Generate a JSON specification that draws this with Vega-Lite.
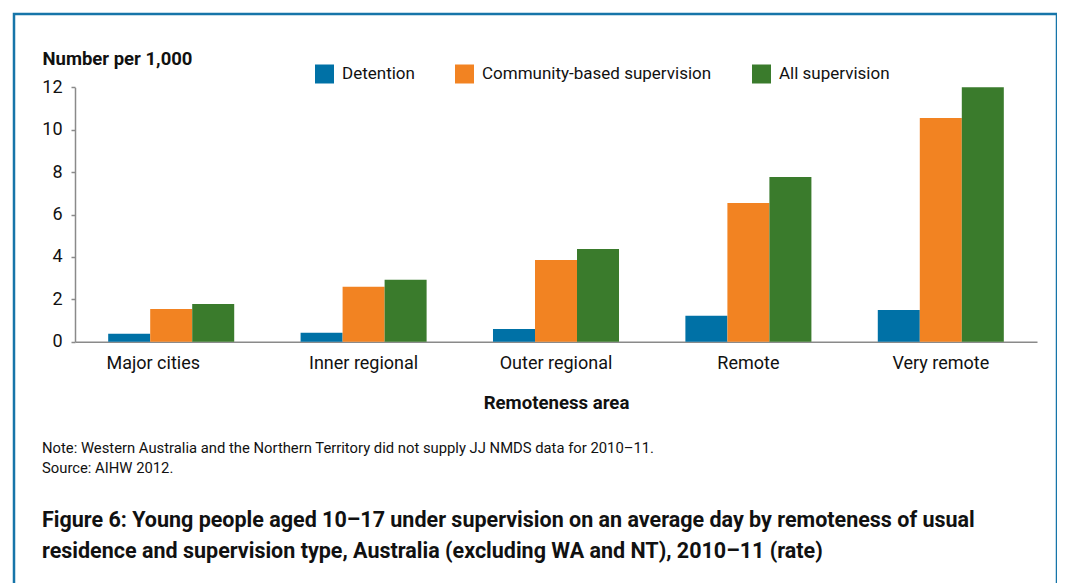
{
  "$schema": "https://vega.github.io/schema/vega-lite/v6.json",
  "width": 1043,
  "height": 572,
  "autosize": {"type": "none"},
  "padding": {"left": 14, "top": 14, "right": 0, "bottom": -3},
  "background": "white",
  "title": {
    "text": ["Note: Western Australia and the Northern Territory did not supply JJ NMDS data for 2010–11.", "Source: AIHW 2012."],
    "subtitle": ["Figure 6: Young people aged 10–17 under supervision on an average day by remoteness of usual", "residence and supervision type, Australia (excluding WA and NT), 2010–11 (rate)"],
    "orient": "bottom",
    "anchor": "start",
    "frame": "group",
    "offset": -133,
    "dx": 28,
    "baseline": "alphabetic",
    "fontSize": 14.8,
    "fontWeight": "normal",
    "color": "#111111",
    "lineHeight": 20,
    "subtitleFontSize": 21.5,
    "subtitleFontWeight": "bold",
    "subtitleColor": "#111111",
    "subtitleLineHeight": 31,
    "subtitlePadding": 39
  },
  "data": {
    "values": [
      {"area": "Major cities", "type": "Detention", "value": 0.38},
      {"area": "Major cities", "type": "Community-based supervision", "value": 1.54},
      {"area": "Major cities", "type": "All supervision", "value": 1.78},
      {"area": "Inner regional", "type": "Detention", "value": 0.42},
      {"area": "Inner regional", "type": "Community-based supervision", "value": 2.59},
      {"area": "Inner regional", "type": "All supervision", "value": 2.92},
      {"area": "Outer regional", "type": "Detention", "value": 0.6},
      {"area": "Outer regional", "type": "Community-based supervision", "value": 3.85},
      {"area": "Outer regional", "type": "All supervision", "value": 4.37},
      {"area": "Remote", "type": "Detention", "value": 1.22},
      {"area": "Remote", "type": "Community-based supervision", "value": 6.54},
      {"area": "Remote", "type": "All supervision", "value": 7.77},
      {"area": "Very remote", "type": "Detention", "value": 1.5},
      {"area": "Very remote", "type": "Community-based supervision", "value": 10.55},
      {"area": "Very remote", "type": "All supervision", "value": 12.0}
    ]
  },
  "mark": {"type": "bar"},
  "encoding": {
    "x": {
      "field": "area",
      "type": "nominal",
      "sort": ["Major cities", "Inner regional", "Outer regional", "Remote", "Very remote"],
      "scale": {"range": [61, 1023], "paddingInner": 0.345, "paddingOuter": 0.1725},
      "axis": {
        "title": "Remoteness area",
        "orient": "bottom",
        "offset": -244.3,
        "ticks": false,
        "tickSize": 0,
        "labelPadding": 12.5,
        "labelAngle": 0,
        "labelFontSize": 18,
        "labelColor": "#111111",
        "labelOffset": {"condition": {"test": "datum.value === 'Major cities'", "value": -18}, "value": 0},
        "domainColor": "#8a8a8a",
        "domainWidth": 1.5,
        "titleBaseline": "alphabetic",
        "titleY": 66.5,
        "titleFontSize": 18.6,
        "titleFontWeight": "bold",
        "titleColor": "#111111"
      }
    },
    "xOffset": {
      "field": "type",
      "type": "nominal",
      "sort": ["Detention", "Community-based supervision", "All supervision"],
      "scale": {"paddingInner": 0, "paddingOuter": 0}
    },
    "y": {
      "field": "value",
      "type": "quantitative",
      "scale": {"domain": [0, 12], "range": [327.7, 73.3], "nice": false, "zero": true},
      "axis": {
        "title": "Number per 1,000",
        "orient": "left",
        "offset": -61,
        "values": [0, 2, 4, 6, 8, 10, 12],
        "grid": false,
        "domainColor": "#8a8a8a",
        "domainWidth": 1.5,
        "tickColor": "#8a8a8a",
        "tickWidth": 1.5,
        "tickSize": 4,
        "labelPadding": 9,
        "labelFontSize": 18,
        "labelColor": "#111111",
        "titleAngle": 0,
        "titleAlign": "left",
        "titleBaseline": "alphabetic",
        "titleX": -33,
        "titleY": 50.5,
        "titleFontSize": 18.5,
        "titleFontWeight": "bold",
        "titleColor": "#111111"
      }
    },
    "color": {
      "field": "type",
      "type": "nominal",
      "sort": ["Detention", "Community-based supervision", "All supervision"],
      "scale": {
        "domain": ["Detention", "Community-based supervision", "All supervision"],
        "range": ["#0071a6", "#f28322", "#3a7b2c"]
      },
      "legend": {
        "title": null,
        "orient": "none",
        "legendX": 301,
        "legendY": 50.5,
        "direction": "horizontal",
        "symbolType": "square",
        "symbolSize": 361,
        "symbolStrokeWidth": 0,
        "labelFontSize": 17,
        "labelColor": "#111111",
        "labelOffset": 8,
        "columnPadding": 40,
        "padding": 0,
        "labelLimit": 400
      }
    }
  },
  "config": {
    "font": "Roboto",
    "view": {"stroke": "#1675a9", "strokeWidth": 2.5}
  }
}
